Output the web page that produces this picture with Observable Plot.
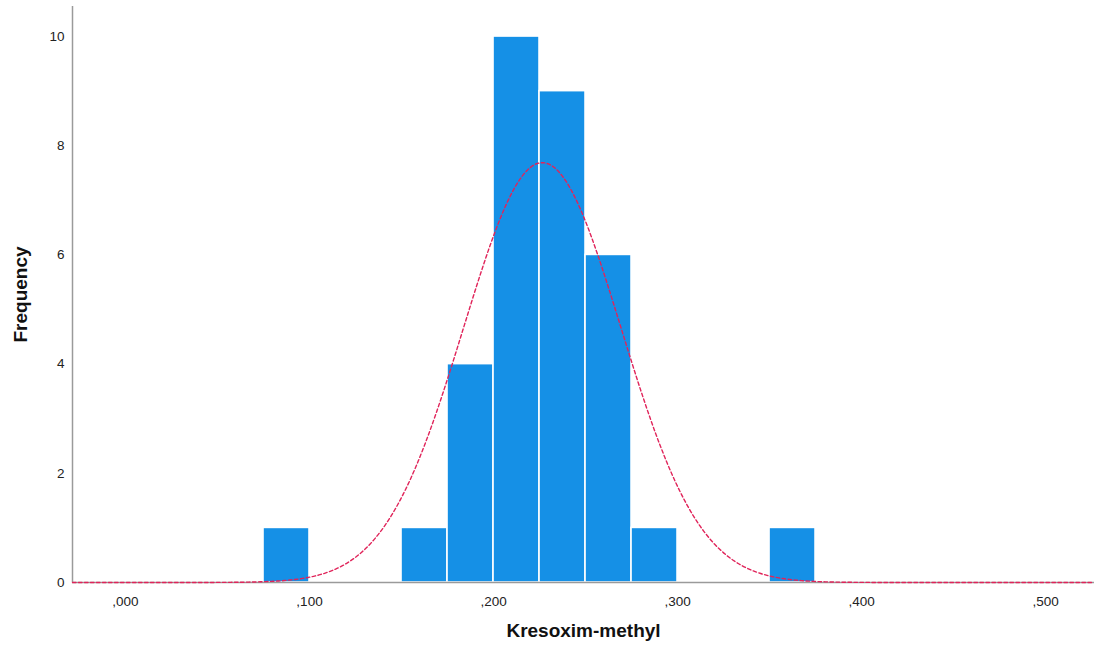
<!DOCTYPE html>
<html>
<head>
<meta charset="utf-8">
<script src="https://cdn.jsdelivr.net/npm/d3@7"></script>
<script src="https://cdn.jsdelivr.net/npm/@observablehq/plot@0.6"></script>
<style>
  html, body { margin: 0; padding: 0; background: #fff; }
  #chart svg { display: block; }
</style>
</head>
<body>
<div id="chart"></div>
<script>
// Histogram bins (lower edge, upper edge) and their counts
const binStart = [0.075, 0.150, 0.175, 0.200, 0.225, 0.250, 0.275, 0.350];
const binEnd   = [0.100, 0.175, 0.200, 0.225, 0.250, 0.275, 0.300, 0.375];
const counts   = [1, 1, 4, 10, 9, 6, 1, 1];

// Fitted normal curve parameters
const fitMean = 0.2265;
const fitSd = 0.0428;
const binWidth = 0.025;
const nObs = counts.reduce((a, b) => a + b, 0);

const xTicks = [0, 0.1, 0.2, 0.3, 0.4, 0.5];
const yTicks = [0, 2, 4, 6, 8, 10];
const xDomain = [-0.0288, 0.5266];
const yDomain = [0, 10.55];

const bars = binStart.map((x1, i) => ({x1, x2: binEnd[i], y: counts[i]}));

// Normal density scaled to frequency per bin
const curve = d3.range(xDomain[0], xDomain[1] + 0.0005, 0.001).map(x => ({
  x,
  y: nObs * binWidth / (fitSd * Math.sqrt(2 * Math.PI)) *
     Math.exp(-0.5 * ((x - fitMean) / fitSd) ** 2)
}));

const fmt = v => d3.format(".3f")(v).replace(/^0\./, ",");

const chart = Plot.plot({
  width: 1094,
  height: 655,
  marginLeft: 72,
  marginRight: 0,
  marginTop: 6,
  marginBottom: 73,
  style: {fontFamily: "'Liberation Sans', Arial, sans-serif", fontSize: "13.5px", color: "#222"},
  x: {domain: xDomain, ticks: xTicks, tickFormat: fmt, tickSize: 0, tickPadding: 14,
      label: null},
  y: {domain: yDomain, ticks: yTicks, tickSize: 0, tickPadding: 8, label: null},
  marks: [
    Plot.rectY(bars, {x1: "x1", x2: "x2", y: "y", fill: "#1590E6",
                      stroke: "#ffffff", strokeWidth: 1.6}),
    Plot.ruleY([0], {stroke: "#9a9a9a", strokeWidth: 1.5}),
    Plot.ruleX([xDomain[0]], {y1: 0, y2: yDomain[1], stroke: "#9a9a9a", strokeWidth: 1.5}),
    Plot.line(curve, {x: "x", y: "y", stroke: "#E0245A", strokeWidth: 1.4,
                      strokeDasharray: "3.5,2.5"}),
    Plot.text(["Kresoxim-methyl"], {frameAnchor: "bottom", dy: 54, fontSize: 19,
                                    fontWeight: "bold", fill: "#111"}),
    Plot.text(["Frequency"], {frameAnchor: "left", textAnchor: "middle", dx: -52,
                              rotate: -90, fontSize: 19, fontWeight: "bold", fill: "#111"})
  ]
});

document.getElementById("chart").appendChild(chart);
</script>
</body>
</html>
